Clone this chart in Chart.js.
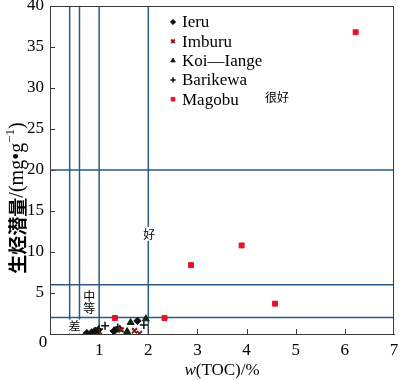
<!DOCTYPE html>
<html><head><meta charset="utf-8">
<script src="https://cdn.jsdelivr.net/npm/chart.js@4/dist/chart.umd.min.js"></script>
<style>html,body{margin:0;padding:0;background:#fff}#wrap{width:400px;height:380px}</style>
</head><body><div id="wrap"><canvas id="c" width="400" height="380"></canvas></div>
<script>
// ---- data ----
const xTicks = [0,1,2,3,4,5,6,7];
const yTicks = [0,5,10,15,20,25,30,35,40];
const seriesNames = ['Ieru','Imburu','Koi—Iange','Barikewa','Magobu'];
const ieru     = [[0.75,0.1],[0.85,0.2],[0.92,0.4],[0.98,0.5],[1.3,0.35],[1.78,1.6]];
const imburu   = [[0.9,0.05],[0.95,0.3],[1.0,0.3],[1.45,0.5],[1.72,0.4],[1.82,0.05]];
const koiIange = [[1.35,0.5],[1.42,0.6],[1.57,0.3],[1.64,1.4],[1.95,1.85]];
const barikewa = [[1.0,0.6],[1.12,1.0],[1.3,0.4],[1.38,0.8],[1.91,1.1]];
const magobu   = [[1.32,1.95],[2.33,1.95],[2.87,8.4],[3.9,10.8],[4.58,3.7],[6.22,36.8]];
const tocLimits = [0.4,0.6,1,2];
const s12Limits = [2,6,20];
const gradeLabels = ['很好','好','中','等','差'];
const gradeX = [4.62,2.02,0.8,0.8,0.5];
const gradeY = [28.9,12.2,4.6,3.1,0.9];
const xTitle = ['w','(TOC)/%'];
const yTitleParts = ['生烃潜量','/(mg•g','−1',')'];

// ---- styles ----
const LINE = '#2a5a84';
const styles = [
  {pointStyle:'rectRot', radius:3.7, bg:'#111', border:'#111', bw:1},
  {pointStyle:'crossRot', radius:3.5, bg:'#8b1c1c', border:'#8b1c1c', bw:2},
  {pointStyle:'triangle', radius:4, bg:'#10240f', border:'#10240f', bw:1},
  {pointStyle:'cross', radius:4, bg:'#111', border:'#111', bw:1.5},
  {pointStyle:'rect', radius:3.5, bg:'#e8102a', border:'#e8102a', bw:1}
];
const serif = '"Liberation Serif","Times New Roman",serif';
const cjk = '"Noto Sans CJK SC",sans-serif';

const toPts = a => a.map(p => ({x:p[0], y:p[1]}));
const datasets = [];
tocLimits.forEach(v => datasets.push({data:[{x:v,y:0},{x:v,y:40}], showLine:true, borderColor:LINE, borderWidth:1.5, pointRadius:0, order:10}));
s12Limits.forEach(v => datasets.push({data:[{x:0,y:v},{x:7,y:v}], showLine:true, borderColor:LINE, borderWidth:1.5, pointRadius:0, order:10}));
[ieru,imburu,koiIange,barikewa,magobu].forEach((arr,i) => {
  const s = styles[i];
  datasets.push({label:seriesNames[i], data:toPts(arr), pointStyle:s.pointStyle, pointRadius:s.radius,
    backgroundColor:s.bg, borderColor:s.border, borderWidth:s.bw, showLine:false, order:1});
});

const deco = {
  id:'deco',
  afterDatasetsDraw(chart){
    const ctx = chart.ctx, xs = chart.scales.x, ys = chart.scales.y, ca = chart.chartArea;
    ctx.save();
    // frame
    ctx.strokeStyle = '#3a3a3a'; ctx.lineWidth = 1;
    ctx.strokeRect(Math.round(ca.left)+0.5, Math.round(ca.top)+0.5, Math.round(ca.right-ca.left)-1, Math.round(ca.bottom-ca.top));
    // inward ticks
    ctx.beginPath();
    xTicks.forEach(v => { if (v===0||v===7) return; const px = Math.round(xs.getPixelForValue(v))+0.5; ctx.moveTo(px, ca.bottom); ctx.lineTo(px, ca.bottom-5); });
    yTicks.forEach(v => { if (v===0||v===40) return; const py = Math.round(ys.getPixelForValue(v))+0.5; ctx.moveTo(ca.left, py); ctx.lineTo(ca.left+5, py); });
    ctx.stroke();
    // corner zero
    ctx.fillStyle = '#000'; ctx.font = '17px '+serif; ctx.textAlign='center'; ctx.textBaseline='middle';
    ctx.fillText('0', xs.getPixelForValue(0)-7, ys.getPixelForValue(0)+9);
    // grade labels
    ctx.font = '12px '+cjk;
    gradeLabels.forEach((t,i) => {
      const px = xs.getPixelForValue(gradeX[i]), py = ys.getPixelForValue(gradeY[i]);
      const w = ctx.measureText(t).width;
      ctx.fillStyle = '#fff'; ctx.fillRect(px-w/2-1, py-7, w+2, 14);
      ctx.fillStyle = '#000'; ctx.fillText(t, px, py);
    });
    // legend
    const lx = 173, ly0 = 22, dy = 19.3;
    seriesNames.forEach((n,i) => {
      const s = styles[i], y = ly0 + i*dy;
      if (Chart.helpers && Chart.helpers.drawPoint) {
        ctx.fillStyle = s.bg; ctx.strokeStyle = s.border; ctx.lineWidth = s.bw;
        Chart.helpers.drawPoint(ctx, {pointStyle:s.pointStyle, radius:2.6, rotation:0, borderWidth:s.bw}, lx, y);
      }
      ctx.fillStyle = '#000'; ctx.font = '17px '+serif; ctx.textAlign='left'; ctx.textBaseline='middle';
      ctx.fillText(n, lx+9, y+1);
    });
    // x title
    ctx.textBaseline='middle';
    ctx.font = 'italic 17px '+serif; const w1 = ctx.measureText(xTitle[0]).width;
    ctx.font = '17px '+serif; const w2 = ctx.measureText(xTitle[1]).width;
    const cx = (ca.left+ca.right)/2, sx = cx-(w1+w2)/2, ty = 371;
    ctx.textAlign='left';
    ctx.font = 'italic 17px '+serif; ctx.fillText(xTitle[0], sx, ty);
    ctx.font = '17px '+serif; ctx.fillText(xTitle[1], sx+w1, ty);
    // y title (rotated, drawn piecewise)
    const fonts = ['bold 19px '+cjk, '20px '+serif, '13px '+serif, '20px '+serif];
    const offs = [0, 0, -7, 0];
    const widths = yTitleParts.map((t,i) => { ctx.font = fonts[i]; return ctx.measureText(t).width; });
    const total = widths.reduce((a,b)=>a+b,0);
    ctx.translate(18, 198);
    ctx.rotate(-Math.PI/2);
    ctx.textAlign='left'; ctx.textBaseline='middle';
    let px = -total/2;
    yTitleParts.forEach((t,i) => { ctx.font = fonts[i]; ctx.fillText(t, px, offs[i]); px += widths[i]; });
    ctx.restore();
  }
};

new Chart(document.getElementById('c'), {
  type:'scatter',
  data:{datasets},
  plugins:[deco],
  options:{
    responsive:false, animation:false, devicePixelRatio:1,
    layout:{padding:{top:6,right:4,left:0,bottom:0}},
    plugins:{legend:{display:false}, tooltip:{enabled:false}},
    scales:{
      x:{type:'linear', min:0, max:7, afterFit(s){s.height=46; s.paddingLeft=0; s.paddingRight=0;},
        afterBuildTicks(s){ s.ticks = xTicks.map(v=>({value:v})); },
        ticks:{color:'#000', font:{family:serif,size:17}, padding:6, callback:v=> v===0?'':String(v)},
        grid:{display:false, drawTicks:false}, border:{display:true,color:'#3a3a3a'}},
      y:{type:'linear', min:0, max:40, afterFit(s){s.width=50; s.paddingTop=0; s.paddingBottom=0;},
        afterBuildTicks(s){ s.ticks = yTicks.map(v=>({value:v})); },
        ticks:{color:'#000', font:{family:serif,size:17}, padding:6, callback:v=> v===0?'':String(v)},
        grid:{display:false, drawTicks:false}, border:{display:true,color:'#3a3a3a'}}
    }
  }
});
</script></body></html>
